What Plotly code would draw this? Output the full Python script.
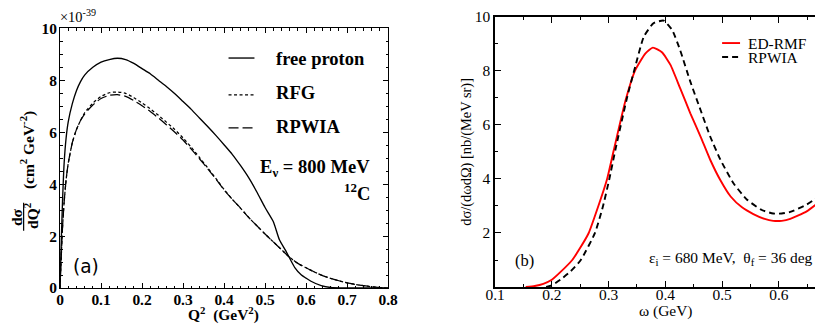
import plotly.graph_objects as go

# The photographed page behaves like a ~841x347 viewport (with an 8 px body margin)
# scaled down to 823x327, so positions are given in reference pixels and converted.
SX, SY = 823 / 841, 327 / 347
W, H = 825, 331
OFF = 8
K = 1.03  # font scale compensation

# ---------------- Panel (a) data ----------------
q2 = [0, 0.003, 0.006, 0.01, 0.015, 0.02, 0.03, 0.04, 0.05, 0.06, 0.08, 0.1, 0.12, 0.14,
      0.16, 0.18, 0.2, 0.22, 0.24, 0.26, 0.28, 0.3, 0.32, 0.34, 0.36, 0.38, 0.4, 0.42,
      0.44, 0.46, 0.48, 0.5, 0.52, 0.535, 0.55, 0.562, 0.573, 0.588, 0.6, 0.612, 0.637,
      0.66, 0.7, 0.75, 0.8]
free_proton = [0, 1.8, 3.3, 4.8, 5.8, 6.4, 7.1, 7.6, 7.95, 8.2, 8.5, 8.7, 8.8, 8.85,
               8.8, 8.65, 8.45, 8.25, 8.0, 7.75, 7.48, 7.18, 6.88, 6.55, 6.22, 5.88, 5.52,
               5.15, 4.72, 4.25, 3.7, 3.1, 2.56, 1.86, 1.45, 1.09, 0.78, 0.51, 0.38, 0.26,
               0.09, 0.02, 0.0, 0.0, 0.0]

q2_nuc = [0, 0.003, 0.006, 0.01, 0.015, 0.02, 0.03, 0.04, 0.05, 0.06, 0.08, 0.1, 0.12,
          0.14, 0.16, 0.18, 0.2, 0.22, 0.24, 0.26, 0.28, 0.3, 0.32, 0.34, 0.36, 0.38, 0.4,
          0.42, 0.44, 0.46, 0.48, 0.5, 0.52, 0.54, 0.56, 0.58, 0.6, 0.62, 0.64, 0.66,
          0.68, 0.7, 0.72, 0.74, 0.76, 0.78, 0.8]
rfg = [0, 1.2, 2.3, 3.3, 4.2, 4.8, 5.6, 6.1, 6.45, 6.75, 7.12, 7.38, 7.52, 7.55, 7.5,
       7.33, 7.13, 6.9, 6.65, 6.38, 6.1, 5.78, 5.42, 5.03, 4.63, 4.22, 3.8, 3.42, 3.08,
       2.72, 2.4, 2.08, 1.78, 1.48, 1.18, 0.95, 0.78, 0.62, 0.48, 0.37, 0.28, 0.2, 0.14,
       0.09, 0.05, 0.02, 0.0]
rpwia_a = [0, 1.2, 2.3, 3.3, 4.2, 4.8, 5.6, 6.1, 6.45, 6.7, 7.05, 7.3, 7.42, 7.45, 7.38,
           7.22, 7.02, 6.8, 6.55, 6.28, 6.0, 5.7, 5.35, 4.98, 4.6, 4.2, 3.78, 3.42, 3.08,
           2.72, 2.4, 2.08, 1.78, 1.48, 1.18, 0.95, 0.78, 0.62, 0.48, 0.37, 0.28, 0.2,
           0.14, 0.09, 0.05, 0.02, 0.0]

# ---------------- Panel (b) data ----------------
omega_ed = [0.154, 0.17, 0.185, 0.2, 0.215, 0.236, 0.25, 0.265, 0.282, 0.297, 0.309, 0.33,
            0.347, 0.365, 0.378, 0.394, 0.409, 0.426, 0.444, 0.462, 0.479, 0.497, 0.515,
            0.535, 0.555, 0.575, 0.59, 0.605, 0.62, 0.649, 0.677]
ed_rmf = [0.0, 0.04, 0.12, 0.27, 0.55, 1.0, 1.45, 2.0, 3.0, 3.97, 5.05, 6.92, 8.03, 8.65,
          8.86, 8.69, 8.22, 7.36, 6.43, 5.57, 4.71, 3.95, 3.35, 2.95, 2.7, 2.52, 2.45,
          2.45, 2.52, 2.8, 3.25]
omega_rp = [0.19, 0.2, 0.215, 0.233, 0.251, 0.276, 0.29, 0.301, 0.312, 0.333, 0.347, 0.362,
            0.379, 0.397, 0.412, 0.426, 0.444, 0.462, 0.479, 0.497, 0.52, 0.544, 0.57,
            0.59, 0.605, 0.62, 0.649, 0.677]
rpwia_b = [0.0, 0.06, 0.27, 0.58, 1.0, 2.0, 2.98, 3.97, 5.08, 7.05, 8.16, 9.26, 9.76, 9.86,
           9.51, 8.77, 7.6, 6.55, 5.57, 4.71, 3.84, 3.23, 2.85, 2.72, 2.72, 2.78, 3.05, 3.45]

SERIF = "Liberation Serif"


def px(x):
    return (x / SX - OFF) / W


def py(y):
    y = (y - 1.3) / 1.008
    return 1 - (y / SY - OFF) / H


def fs(s):
    return s * K


fig = go.Figure()

# panel (a)
fig.add_trace(go.Scatter(x=q2, y=free_proton, mode="lines", xaxis="x", yaxis="y",
                         line=dict(color="black", width=1.35, shape="spline", smoothing=0.6)))
fig.add_trace(go.Scatter(x=q2_nuc, y=rfg, mode="lines", xaxis="x", yaxis="y",
                         line=dict(color="black", width=1.25, dash="3px,2.5px", shape="spline", smoothing=0.6)))
fig.add_trace(go.Scatter(x=q2_nuc, y=rpwia_a, mode="lines", xaxis="x", yaxis="y",
                         line=dict(color="black", width=1.25, dash="10px,4px", shape="spline", smoothing=0.6)))
# panel (b)
fig.add_trace(go.Scatter(x=omega_ed, y=ed_rmf, mode="lines", xaxis="x2", yaxis="y2",
                         line=dict(color="#ff0000", width=1.9, shape="spline", smoothing=0.5)))
fig.add_trace(go.Scatter(x=omega_rp, y=rpwia_b, mode="lines", xaxis="x2", yaxis="y2",
                         line=dict(color="black", width=1.9, dash="6px,4px", shape="spline", smoothing=0.5)))

axa = dict(showgrid=False, zeroline=False, showline=True, linecolor="black", linewidth=1,
           ticks="inside", tickcolor="black", mirror="ticks")
x2_end = 0.1 + (815 - 494.3) / 569
fig.update_layout(
    width=W, height=H, autosize=False, showlegend=False,
    margin=dict(l=0, r=0, t=0, b=0),
    paper_bgcolor="white", plot_bgcolor="white",
    xaxis=dict(**axa, domain=[px(58), px(387)], range=[0, 0.8], dtick=0.1, tick0=0,
               ticklen=5, minor=dict(dtick=0.02, ticklen=2.5, ticks="inside", tickcolor="black"),
               ticklabelstandoff=-3,
               tickfont=dict(family=SERIF, size=fs(15), color="black", weight="bold"), anchor="y"),
    yaxis=dict(**axa, domain=[py(288.3), py(28.3)], range=[0, 10], dtick=2, tick0=0,
               ticklen=5, minor=dict(dtick=0.5, ticklen=2.5, ticks="inside", tickcolor="black"),
               ticklabelstandoff=-1,
               tickfont=dict(family=SERIF, size=fs(15), color="black", weight="bold"), anchor="x"),
    xaxis2=dict(showgrid=False, zeroline=False, showline=True, linecolor="black", linewidth=1.5,
                ticks="inside", tickcolor="black", mirror="ticks", tickwidth=1.2,
                domain=[px(494.3), 1.0], range=[0.1, x2_end], dtick=0.1, tick0=0.1,
                ticklen=6, minor=dict(dtick=0.05, ticklen=3, ticks="inside", tickcolor="black"),
                ticklabelstandoff=-7,
                tickfont=dict(family=SERIF, size=fs(15), color="black"), anchor="y2"),
    yaxis2=dict(showgrid=False, zeroline=False, showline=True, linecolor="black", linewidth=1.5,
                ticks="inside", tickcolor="black", tickwidth=1.2,
                domain=[py(287.3), py(16.7)], range=[0, 10],
                tickmode="array", tickvals=[0, 2, 4, 6, 8, 10], ticktext=["", "2", "4", "6", "8", "10"],
                ticklen=6, minor=dict(dtick=1, ticklen=3, ticks="inside", tickcolor="black"),
                tickfont=dict(family=SERIF, size=fs(15), color="black"), anchor="x2"),
)

ann = []


def A(text, x, y, size, xanchor="center", yanchor="middle", bold=False, family=SERIF, angle=0, color="black"):
    ann.append(dict(text=text, x=px(x), y=py(y), xref="paper", yref="paper", showarrow=False,
                    xanchor=xanchor, yanchor=yanchor, textangle=angle,
                    font=dict(family=family, size=fs(size), color=color, weight="bold" if bold else "normal")))


# panel (a) texts
A("×10<sup>-39</sup>", 56, 16, 14, xanchor="left")
A("free proton", 273, 58, 18, xanchor="left", bold=True)
A("RFG", 273, 93, 18, xanchor="left", bold=True)
A("RPWIA", 273, 127, 18, xanchor="left", bold=True)
A("E<sub>ν</sub> = 800 MeV", 371, 168, 18, xanchor="right", bold=True)
A("<sup>12</sup>C", 371, 192, 18, xanchor="right", bold=True)
A("(a)", 69, 267, 18, xanchor="left", family="DejaVu Sans")
A("Q<sup>2</sup>  (GeV<sup>2</sup>)", 222, 314, 15, bold=True)
A("(cm<sup>2</sup> GeV<sup>-2</sup>)", 25, 150, 15, bold=True, angle=-90)
A("dσ", 15, 217, 15, bold=True, angle=-90)
A("dQ<sup>2</sup>", 29, 216, 15, bold=True, angle=-90)

# panel (b) texts
A("ED-RMF", 746, 43, 15, xanchor="left")
A("RPWIA", 746, 57, 15, xanchor="left")
A("(b)", 524, 261, 16)
A("ε<sub>i</sub> = 680 MeV,  θ<sub>f</sub> = 36 deg", 815, 259, 15, xanchor="right")
A("ω (GeV)", 665, 311, 15)
A("dσ/(dωdΩ) [nb/(MeV sr)]", 466, 152, 14, angle=-90)

fig.update_layout(annotations=ann)

shapes = [
    # fraction bar of the y-axis title of panel (a)
    dict(type="line", xref="paper", yref="paper", x0=px(21.5), x1=px(21.5), y0=py(203), y1=py(231),
         line=dict(color="black", width=1.2)),
    # legend samples panel (a)
    dict(type="line", xref="paper", yref="paper", x0=px(227), x1=px(253), y0=py(58), y1=py(58),
         line=dict(color="black", width=1.35)),
    dict(type="line", xref="paper", yref="paper", x0=px(227), x1=px(253), y0=py(95), y1=py(95),
         line=dict(color="black", width=1.25, dash="3px,2.5px")),
    dict(type="line", xref="paper", yref="paper", x0=px(227), x1=px(253), y0=py(128), y1=py(128),
         line=dict(color="black", width=1.25, dash="10px,4px")),
    # legend samples panel (b)
    dict(type="line", xref="paper", yref="paper", x0=px(722), x1=px(740), y0=py(43), y1=py(43),
         line=dict(color="#ff0000", width=1.9)),
    dict(type="line", xref="paper", yref="paper", x0=px(722), x1=px(740), y0=py(57), y1=py(57),
         line=dict(color="black", width=1.9, dash="6px,4px")),
]
fig.update_layout(shapes=shapes)

fig.write_html("out.html")
